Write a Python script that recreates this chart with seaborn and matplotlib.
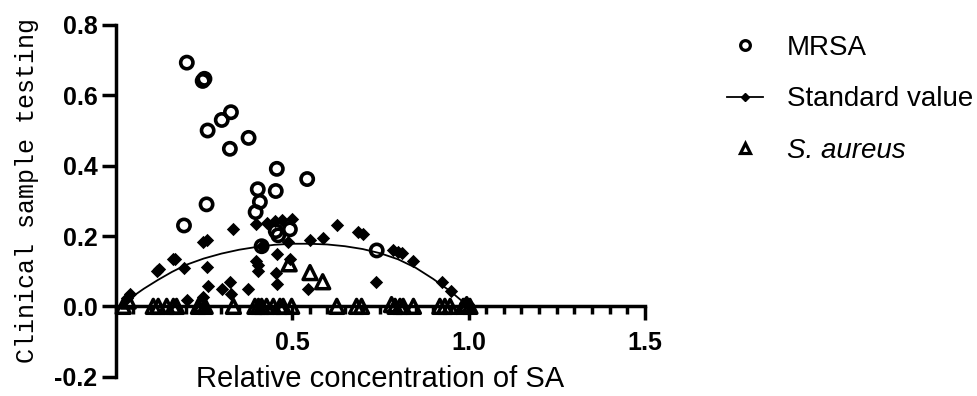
import numpy as np
import pandas as pd
import matplotlib
matplotlib.use("Agg")
import matplotlib.pyplot as plt
import seaborn as sns
from matplotlib.lines import Line2D
from matplotlib.ticker import MultipleLocator, FormatStrFormatter

# ==========================
# Data
# ==========================
mrsa_x = [0.202, 0.247, 0.252, 0.261, 0.301, 0.327, 0.324, 0.377, 0.457, 0.543,
          0.403, 0.454, 0.409, 0.397, 0.258, 0.194, 0.454, 0.461, 0.494, 0.414, 0.740]
mrsa_y = [0.693, 0.641, 0.647, 0.500, 0.530, 0.552, 0.448, 0.479, 0.391, 0.362,
          0.333, 0.328, 0.297, 0.268, 0.290, 0.230, 0.214, 0.202, 0.219, 0.171, 0.159]

std_x = [0.041, 0.032, 0.117, 0.124, 0.164, 0.169, 0.194, 0.247, 0.258, 0.334,
         0.258, 0.263, 0.203, 0.247, 0.301, 0.324, 0.327, 0.376, 0.397, 0.428,
         0.452, 0.471, 0.501, 0.397, 0.403, 0.405, 0.457, 0.490, 0.494, 0.454,
         0.457, 0.544, 0.551, 0.587, 0.627, 0.688, 0.702, 0.787, 0.801, 0.812,
         0.844, 0.738, 0.926, 0.950, 0.990, 0.999, 0.414]
std_y = [0.034, 0.024, 0.100, 0.105, 0.134, 0.136, 0.108, 0.183, 0.188, 0.219,
         0.112, 0.058, 0.017, 0.026, 0.048, 0.070, 0.034, 0.048, 0.235, 0.238,
         0.243, 0.245, 0.247, 0.129, 0.117, 0.100, 0.148, 0.183, 0.134, 0.094,
         0.064, 0.048, 0.189, 0.195, 0.231, 0.212, 0.206, 0.159, 0.155, 0.152,
         0.129, 0.070, 0.069, 0.045, 0.010, 0.006, 0.171]

# fitted standard curve
curve_x = [0.04, 0.08, 0.12, 0.16, 0.20, 0.25, 0.30, 0.35, 0.40, 0.45, 0.50,
           0.55, 0.60, 0.65, 0.70, 0.75, 0.80, 0.85, 0.90, 0.95, 0.99]
curve_y = [0.022, 0.050, 0.075, 0.098, 0.118, 0.136, 0.150, 0.161, 0.169, 0.175, 0.178,
           0.178, 0.176, 0.171, 0.163, 0.151, 0.134, 0.110, 0.078, 0.042, 0.008]

sa_x = [0.492, 0.551, 0.587, 0.036,
        0.022, 0.107, 0.121, 0.145, 0.164, 0.173, 0.235, 0.244, 0.254, 0.334,
        0.395, 0.405, 0.414, 0.428, 0.447, 0.466, 0.475, 0.499, 0.627, 0.683,
        0.697, 0.782, 0.792, 0.806, 0.815, 0.844, 0.919, 0.933, 0.948, 0.985,
        0.995, 1.004]
sa_y = [0.121, 0.096, 0.070, 0.015,
        0.0, 0.0, 0.0, 0.0, 0.0, 0.0, 0.0, 0.005, 0.0, 0.0,
        0.0, 0.0, 0.0, 0.0, 0.0, 0.0, 0.0, 0.0, 0.0, 0.0,
        0.0, 0.005, 0.0, 0.0, 0.0, 0.0, 0.0, 0.0, 0.0, 0.0,
        0.005, 0.0]

x_ticks = [0.5, 1.0, 1.5]
y_ticks = [-0.2, 0.0, 0.2, 0.4, 0.6, 0.8]

# ==========================
# Figure
# ==========================
plt.rcParams["font.family"] = ["Liberation Sans", "DejaVu Sans"]
plt.rcParams["axes.unicode_minus"] = False

fig = plt.figure(figsize=(9.77, 3.96), dpi=100)
ax = fig.add_axes([115.5 / 977, 19.3 / 396, 529.5 / 977, 351.7 / 396])

sns.lineplot(x=curve_x, y=curve_y, color="black", linewidth=1.3, ax=ax, zorder=3)
sns.scatterplot(x=std_x, y=std_y, marker="D", s=46, color="black", linewidth=0,
                ax=ax, zorder=4, clip_on=False, legend=False)
sns.scatterplot(x=mrsa_x, y=mrsa_y, marker="o", s=78, facecolors="none",
                edgecolor="black", linewidth=2.6, ax=ax, zorder=5, clip_on=False, legend=False)
sns.scatterplot(x=sa_x, y=sa_y, marker="^", s=100, facecolors="none",
                edgecolor="black", linewidth=2.5, ax=ax, zorder=6, clip_on=False, legend=False)

ax.set_xlim(0, 1.5)
ax.set_ylim(-0.2, 0.8)
ax.spines["top"].set_visible(False)
ax.spines["right"].set_visible(False)
ax.spines["bottom"].set_position(("data", 0))
for sp in ["left", "bottom"]:
    ax.spines[sp].set_linewidth(2.5)

ax.set_xticks(x_ticks)
ax.set_yticks(y_ticks)
ax.xaxis.set_minor_locator(MultipleLocator(0.05))
ax.xaxis.set_major_formatter(FormatStrFormatter("%.1f"))
ax.yaxis.set_major_formatter(FormatStrFormatter("%.1f"))
ax.tick_params(axis="both", which="major", length=10, width=2.5, labelsize=18)
ax.tick_params(axis="y", which="major", pad=3)
ax.tick_params(axis="x", which="major", pad=8)
ax.tick_params(axis="x", which="minor", length=5.5, width=2.5)
for lab in ax.get_xticklabels() + ax.get_yticklabels():
    lab.set_fontweight("bold")

ax.set_xlabel("Relative concentration of SA", fontsize=21, va="baseline")
ax.xaxis.set_label_coords(0.5, -0.028)
ax.set_ylabel("Clinical sample testing", fontsize=18, family=["Liberation Mono", "DejaVu Sans Mono"],
              va="center")
ax.yaxis.set_label_coords(-0.167, 0.53)

handles = [
    Line2D([], [], marker="o", ls="none", mfc="none", mec="black", mew=2.3, ms=7),
    Line2D([], [], marker="D", color="black", lw=1.3, ms=4.5),
    Line2D([], [], marker="^", ls="none", mfc="none", mec="black", mew=2.3, ms=7.5),
]
leg = fig.legend(handles, ["MRSA", "Standard value", "S. aureus"], loc="upper left",
                 bbox_to_anchor=(727 / 977, 0.912), bbox_transform=fig.transFigure,
                 frameon=False, fontsize=20, handlelength=1.3, handletextpad=0.85,
                 labelspacing=0.92, borderpad=0, borderaxespad=0)
leg.get_texts()[2].set_fontstyle("italic")

fig.savefig("out.png", dpi=100)
